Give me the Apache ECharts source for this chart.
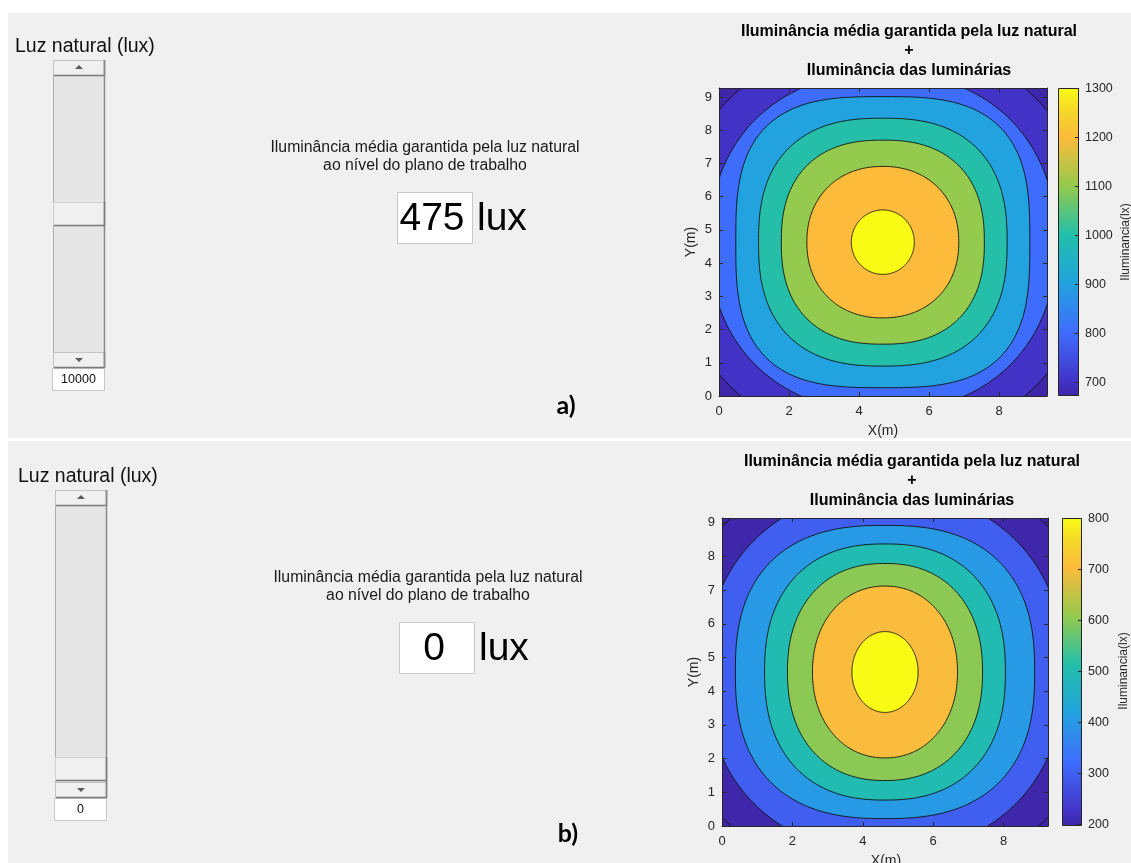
<!DOCTYPE html>
<html>
<head>
<meta charset="utf-8">
<script src="https://cdn.jsdelivr.net/npm/echarts@6/dist/echarts.min.js"></script>
<style>
  html, body { margin: 0; padding: 0; background: #ffffff; }
  #chart { width: 1131px; height: 863px; }
</style>
</head>
<body>
<div id="chart"></div>
<script>
// Contour levels of the illuminance on the work plane (lux)
const levelsA = [700, 800, 900, 1000, 1100, 1200, 1300];
const levelsB = [200, 300, 400, 500, 600, 700, 800];
// Each contour line: half-width along X (m), half-height along Y (m), squareness
const halfXA = [6.0, 4.95, 4.2, 3.55, 2.9, 2.17, 0.9];
const halfYA = [6.1, 5.1, 4.38, 3.73, 3.07, 2.28, 0.97];
const shapeA = [2.1, 2.2, 3.0, 2.5, 2.4, 2.15, 2.0];
const centreA = [4.68, 4.63];
const halfXB = [6.35, 5.1, 4.25, 3.42, 2.77, 2.06, 0.94];
const halfYB = [6.3, 5.35, 4.35, 3.8, 3.22, 2.55, 1.2];
const shapeB = [2.0, 2.2, 2.5, 2.35, 2.25, 2.1, 2.0];
const centreB = [4.63, 4.57];
// Colour scale limits (lux)
const scaleA = [671, 1300];
const scaleB = [197, 800];
// Room size X, Y (m)
const roomA = [9.37, 9.27];
const roomB = [9.26, 9.14];
// Colorbar tick labels
const colorbarTicksA = [700, 800, 900, 1000, 1100, 1200, 1300];
const colorbarTicksB = [200, 300, 400, 500, 600, 700, 800];
// Average natural illuminance on the work plane and slider value
const naturalLux = ['475', '0'];
const sliderValues = ['10000', '0'];
// parula-like colormap anchors: position (0..1) and colour
const cmapPos = [0, 0.046, 0.205, 0.364, 0.523, 0.68, 0.84, 0.92, 1];
const cmapColor = ['#3e26a8', '#4232c6', '#3f6cfd', '#22a2e0', '#22bfaa', '#93ca4d', '#fdbb3b', '#f5d52a', '#f9fb15'];

const FONT = '"Liberation Sans", Arial, sans-serif';
const INK = '#262626';

// Evenly spaced colour list for the visualMap, interpolated between the anchors
function hexToRgb(h) { return [1, 3, 5].map(i => parseInt(h.substr(i, 2), 16)); }
function buildColormap(steps) {
  const out = [];
  for (let i = 0; i < steps; i++) {
    const t = i / (steps - 1);
    let k = 0;
    while (k < cmapPos.length - 2 && t > cmapPos[k + 1]) k++;
    const f = (t - cmapPos[k]) / (cmapPos[k + 1] - cmapPos[k]);
    const a = hexToRgb(cmapColor[k]), b = hexToRgb(cmapColor[k + 1]);
    const c = a.map((v, j) => Math.round(v + (b[j] - v) * Math.min(1, Math.max(0, f))));
    out.push('rgb(' + c.join(',') + ')');
  }
  return out;
}
const colormap = buildColormap(101);
const colorStops = cmapPos.map((p, i) => ({ offset: p, color: cmapColor[i] }));

function contourData(scale, levels, hx, hy, shape) {
  const rows = [[scale[0], 0, 0, 0]];
  levels.forEach((v, i) => rows.push([v, hx[i], hy[i], shape[i]]));
  return rows;
}

function contourRenderer(centre) {
  return function (params, api) {
    const color = api.visual('color');
    const cs = params.coordSys;
    if (params.dataIndex === 0) {
      return { type: 'rect', shape: { x: cs.x, y: cs.y, width: cs.width, height: cs.height },
               style: { fill: color } };
    }
    const hx = api.value(1), hy = api.value(2), n = api.value(3);
    const pts = [];
    const N = 360;
    for (let k = 0; k < N; k++) {
      const t = k / N * 2 * Math.PI;
      const c = Math.cos(t), s = Math.sin(t);
      const x = centre[0] + hx * Math.sign(c) * Math.pow(Math.abs(c), 2 / n);
      const y = centre[1] + hy * Math.sign(s) * Math.pow(Math.abs(s), 2 / n);
      pts.push(api.coord([x, y]));
    }
    return { type: 'polygon', shape: { points: pts },
             style: { fill: color, stroke: '#111111', lineWidth: 0.9 } };
  };
}

function colorbarRenderer(scale) {
  return function (params, api) {
    const cs = params.coordSys;
    const top = api.coord([0, scale[1]])[1];
    const bot = api.coord([0, scale[0]])[1];
    return {
      type: 'rect',
      shape: { x: cs.x + 0.5, y: top + 0.5, width: cs.width - 1, height: bot - top - 1 },
      style: {
        fill: { type: 'linear', x: 0, y: 1, x2: 0, y2: 0, colorStops: colorStops },
        stroke: INK, lineWidth: 1
      }
    };
  };
}

function colorbarTickRenderer(params, api) {
  const cs = params.coordSys;
  const v = api.value(1);
  const y = Math.round(api.coord([0, v])[1]) + 0.5;
  const xr = cs.x + cs.width;
  return {
    type: 'group',
    children: [
      { type: 'line', shape: { x1: xr - 4, y1: y, x2: xr, y2: y }, style: { stroke: INK, lineWidth: 1 } },
      { type: 'text', x: xr + 6, y: y,
        style: { text: String(v), font: '12.5px ' + FONT, fill: INK, align: 'left', verticalAlign: 'middle' } }
    ]
  };
}

const tickStyle = { show: true, inside: true, length: 4, lineStyle: { color: INK, width: 1 } };
const lineStyle = { show: true, onZero: false, lineStyle: { color: INK, width: 1 } };
const intLabel = v => (Math.abs(v - Math.round(v)) < 1e-6 ? String(Math.round(v)) : '');

function plotAxes(gridIndex, room) {
  const x = [
    { type: 'value', gridIndex, min: 0, max: room[0], interval: 2, position: 'bottom', z: 10,
      axisLine: lineStyle, axisTick: tickStyle, splitLine: { show: false },
      axisLabel: { formatter: intLabel, color: INK, fontSize: 13, fontFamily: FONT, margin: 9 } },
    { type: 'value', gridIndex, min: 0, max: room[0], interval: 2, position: 'top', z: 10,
      axisLine: lineStyle, axisTick: tickStyle, splitLine: { show: false }, axisLabel: { show: false } }
  ];
  const y = [
    { type: 'value', gridIndex, min: 0, max: room[1], interval: 1, position: 'left', z: 10,
      axisLine: lineStyle, axisTick: tickStyle, splitLine: { show: false },
      axisLabel: { formatter: intLabel, color: INK, fontSize: 13, fontFamily: FONT, margin: 7 },
      name: 'Y(m)', nameLocation: 'middle', nameGap: 21,
      nameTextStyle: { color: INK, fontSize: 14, fontFamily: FONT } },
    { type: 'value', gridIndex, min: 0, max: room[1], interval: 1, position: 'right', z: 10,
      axisLine: lineStyle, axisTick: tickStyle, splitLine: { show: false }, axisLabel: { show: false } }
  ];
  return { x, y };
}

function colorbarAxes(gridIndex, scale) {
  return {
    x: { type: 'value', gridIndex, min: 0, max: 1, show: false },
    y: { type: 'value', gridIndex, min: scale[0], max: scale[1], show: false }
  };
}

const axA = plotAxes(0, roomA), cbA = colorbarAxes(1, scaleA);
const axB = plotAxes(2, roomB), cbB = colorbarAxes(3, scaleB);

// GUI panel (slider, captions, value boxes) for each scenario
function panelGraphics(p) {
  const els = [];
  const T = (text, x, y, font, align, fill) => els.push({
    type: 'text', x, y, z: 5,
    style: { text, font, fill: fill || '#111111', align: align || 'center', verticalAlign: 'middle' }
  });
  const R = (x, y, w, h, fill, stroke) => els.push({
    type: 'rect', z: 5, shape: { x: x + 0.5, y: y + 0.5, width: w, height: h },
    style: { fill, stroke: stroke || null, lineWidth: 1 }
  });
  const L = (x1, y1, x2, y2, c, w) => els.push({
    type: 'line', z: 6, shape: { x1, y1, x2, y2 }, style: { stroke: c, lineWidth: w || 1 }
  });
  const tri = (cx, cy, up) => els.push({
    type: 'polygon', z: 6,
    shape: { points: up ? [[cx - 4, cy + 2], [cx + 4, cy + 2], [cx, cy - 2]]
                        : [[cx - 4, cy - 2], [cx + 4, cy - 2], [cx, cy + 2]] },
    style: { fill: '#5a5a5a' }
  });
  // panel background
  els.push({ type: 'rect', z: -1, shape: { x: 8, y: p.top, width: 1123, height: p.height },
             style: { fill: '#f0f0f0' } });
  T('Luz natural (lux)', p.labelX, p.labelY, '19.5px ' + FONT, 'left');
  const sx = p.sliderX, w = 51;
  // slider track
  R(sx, p.trackTop, w, p.trackBottom - p.trackTop, '#e6e6e6', '#adadad');
  // arrow buttons
  R(sx, p.trackTop, w, 15, '#f0f0f0', '#c4c4c4');
  L(sx + 1, p.trackTop + 15.5, sx + w + 1, p.trackTop + 15.5, '#7a7a7a', 1.5);
  L(sx + w + 0.5, p.trackTop, sx + w + 0.5, p.trackTop + 16, '#7a7a7a', 1.5);
  tri(sx + w / 2 + 0.5, p.trackTop + 7, true);
  R(sx, p.trackBottom - 15, w, 15, '#f0f0f0', '#c4c4c4');
  L(sx + 1, p.trackBottom + 0.5, sx + w + 1, p.trackBottom + 0.5, '#7a7a7a', 1.5);
  L(sx + w + 0.5, p.trackBottom - 15, sx + w + 0.5, p.trackBottom + 1, '#7a7a7a', 1.5);
  tri(sx + w / 2 + 0.5, p.trackBottom - 7, false);
  // right edge of the track
  L(sx + w + 0.5, p.trackTop, sx + w + 0.5, p.trackBottom, '#8a8a8a', 1.5);
  // thumb
  R(sx, p.thumbTop, w, 23, '#f0f0f0', '#d0d0d0');
  L(sx + 1, p.thumbTop + 23.5, sx + w + 1, p.thumbTop + 23.5, '#7a7a7a', 1.5);
  L(sx + w + 0.5, p.thumbTop, sx + w + 0.5, p.thumbTop + 24, '#7a7a7a', 1.5);
  // value edit box
  R(sx - 1, p.trackBottom + 1, w + 1, 22, '#ffffff', '#c8c8c8');
  T(p.sliderValue, sx + w / 2, p.trackBottom + 12.5, '12.5px ' + FONT, 'center');
  // caption and natural-light value
  T('Iluminância média garantida pela luz natural', p.textX, p.textY, '15.8px ' + FONT, 'center', '#1a1a1a');
  T('ao nível do plano de trabalho', p.textX, p.textY + 18, '15.8px ' + FONT, 'center', '#1a1a1a');
  R(p.boxX, p.boxY, 75, 51, '#ffffff', '#c8c8c8');
  T(p.lux, p.boxX + 35, p.boxY + 27, '39px ' + FONT, 'center', '#000000');
  T('lux', p.boxX + 80, p.boxY + 27, '39px ' + FONT, 'left', '#000000');
  // panel tag
  T(p.tag, p.tagX, p.tagY, 'bold 25px Lato, "Open Sans", sans-serif', 'center', '#000000');
  // plot title
  T('Iluminância média garantida pela luz natural', p.titleX, p.titleY, 'bold 16px ' + FONT, 'center', '#000000');
  T('+', p.titleX, p.titleY + 19, 'bold 16px ' + FONT, 'center', '#000000');
  T('Iluminância das luminárias', p.titleX, p.titleY + 39, 'bold 16px ' + FONT, 'center', '#000000');
  // x-axis title
  T('X(m)', p.xNameX, p.xNameY, '14px ' + FONT, 'center', INK);
  // colorbar label
  els.push({ type: 'text', x: p.cbLabelX, y: p.cbLabelY, rotation: Math.PI / 2, z: 5,
             style: { text: 'Iluminancia(lx)', font: '12px ' + FONT, fill: INK, align: 'center', verticalAlign: 'middle' } });
  return els;
}

const graphics = []
  .concat(panelGraphics({
    top: 13, height: 425, labelX: 15, labelY: 47, sliderX: 53, trackTop: 60, trackBottom: 367,
    thumbTop: 202, sliderValue: sliderValues[0], textX: 425, textY: 148, boxX: 397, boxY: 192,
    lux: naturalLux[0], tag: 'a)', tagX: 566, tagY: 406, titleX: 909, titleY: 32,
    xNameX: 883, xNameY: 431, cbLabelX: 1126, cbLabelY: 242
  }))
  .concat(panelGraphics({
    top: 441, height: 422, labelX: 18, labelY: 477, sliderX: 55, trackTop: 490, trackBottom: 797,
    thumbTop: 757, sliderValue: sliderValues[1], textX: 428, textY: 578, boxX: 399, boxY: 622,
    lux: naturalLux[1], tag: 'b)', tagX: 568, tagY: 834, titleX: 912, titleY: 462,
    xNameX: 886, xNameY: 861, cbLabelX: 1124, cbLabelY: 671
  }));

const option = {
  backgroundColor: '#ffffff',
  animation: false,
  graphic: { elements: graphics },
  grid: [
    { left: 719, top: 88, width: 328, height: 308 },
    { left: 1058, top: 88, width: 21, height: 308 },
    { left: 722, top: 518, width: 326, height: 308 },
    { left: 1062, top: 518, width: 20, height: 308 }
  ],
  xAxis: [axA.x[0], axA.x[1], cbA.x, axB.x[0], axB.x[1], cbB.x],
  yAxis: [axA.y[0], axA.y[1], cbA.y, axB.y[0], axB.y[1], cbB.y],
  visualMap: [
    { type: 'continuous', show: false, seriesIndex: 0, dimension: 0,
      min: scaleA[0], max: scaleA[1], inRange: { color: colormap } },
    { type: 'continuous', show: false, seriesIndex: 3, dimension: 0,
      min: scaleB[0], max: scaleB[1], inRange: { color: colormap } }
  ],
  series: [
    { type: 'custom', xAxisIndex: 0, yAxisIndex: 0, clip: true, z: 3, silent: true,
      renderItem: contourRenderer(centreA),
      data: contourData(scaleA, levelsA, halfXA, halfYA, shapeA) },
    { type: 'custom', xAxisIndex: 2, yAxisIndex: 2, z: 3, silent: true,
      renderItem: colorbarRenderer(scaleA), data: [[0, scaleA[0]]] },
    { type: 'custom', xAxisIndex: 2, yAxisIndex: 2, z: 4, silent: true,
      renderItem: colorbarTickRenderer, data: colorbarTicksA.map(v => [0, v]) },
    { type: 'custom', xAxisIndex: 3, yAxisIndex: 3, clip: true, z: 3, silent: true,
      renderItem: contourRenderer(centreB),
      data: contourData(scaleB, levelsB, halfXB, halfYB, shapeB) },
    { type: 'custom', xAxisIndex: 5, yAxisIndex: 5, z: 3, silent: true,
      renderItem: colorbarRenderer(scaleB), data: [[0, scaleB[0]]] },
    { type: 'custom', xAxisIndex: 5, yAxisIndex: 5, z: 4, silent: true,
      renderItem: colorbarTickRenderer, data: colorbarTicksB.map(v => [0, v]) }
  ]
};

const chart = echarts.init(document.getElementById('chart'));
chart.setOption(option);
</script>
</body>
</html>
